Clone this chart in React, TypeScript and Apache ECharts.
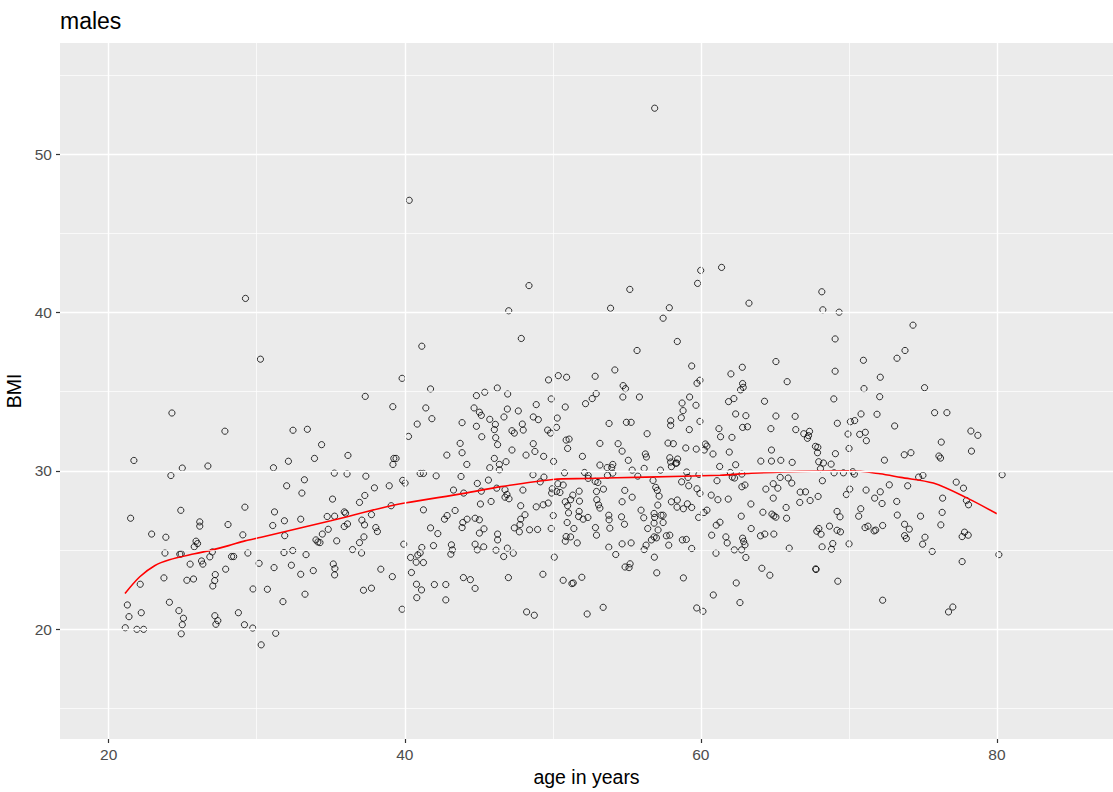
import React, { useEffect, useRef } from "react";
import * as echarts from "echarts";

const chartTitle = "males";
const xTitle = "age in years";
const yTitle = "BMI";
const xTicks = [20, 40, 60, 80];
const xMinor = [30, 50, 70];
const yTicks = [20, 30, 40, 50];
const yMinor = [15, 25, 35, 45, 55];
const xRange = [16.71, 87.84];
const yRange = [13.05, 57.03];

// [age, BMI], grouped by age band
const pts20s: number[][] = [
  [24.27, 33.65], [27.85, 32.5], [21.7, 30.65], [24.97, 30.17], [26.7, 30.3], [24.2, 29.7],
  [24.87, 27.5], [29.2, 27.7], [21.48, 27.0], [26.15, 26.77], [26.15, 26.5], [28.06, 26.6],
  [22.9, 26.0], [23.86, 25.8], [29.06, 25.95], [25.9, 25.55], [26.0, 25.4], [25.78, 25.2],
  [23.8, 24.8], [24.8, 24.73], [24.9, 24.75], [27.0, 24.87], [25.5, 24.1], [26.27, 24.3],
  [26.36, 24.1], [26.83, 24.56], [28.3, 24.58], [28.44, 24.58], [29.4, 24.8], [30.16, 24.15],
  [22.13, 22.83], [23.73, 23.23], [25.28, 23.08], [25.73, 23.16], [27.2, 23.44], [27.16, 23.06],
  [27.03, 22.72], [27.9, 23.78], [29.75, 22.53], [21.26, 21.52], [21.37, 20.78], [22.2, 21.03],
  [24.1, 21.69], [24.74, 21.16], [25.05, 20.68], [24.97, 20.27], [24.9, 19.7], [21.12, 20.08],
  [21.9, 19.98], [22.36, 19.98], [27.17, 20.84], [27.37, 20.53], [27.24, 20.3], [28.76, 21.03],
  [29.17, 20.27], [29.73, 20.06], [30.3, 19.0], [29.24, 40.89],
];

const pts30s: number[][] = [
  [30.25, 37.05], [39.82, 35.84], [37.33, 34.7], [39.19, 34.05], [32.45, 32.56], [33.42, 32.62],
  [34.38, 31.65], [32.14, 30.6], [31.13, 30.19], [33.9, 30.78], [36.16, 30.97], [39.26, 30.78],
  [39.41, 30.78], [39.2, 30.4], [35.24, 29.85], [36.1, 29.8], [37.37, 29.66], [33.22, 29.43],
  [32.02, 29.05], [33.05, 28.59], [37.95, 28.92], [38.95, 29.05], [39.86, 29.39], [40.02, 29.22],
  [35.12, 28.21], [37.3, 28.44], [36.94, 28.0], [39.08, 27.79], [31.2, 27.4], [31.08, 26.54],
  [31.87, 26.84], [32.97, 26.94], [31.89, 25.9], [34.76, 27.11], [35.26, 27.13], [35.91, 27.4],
  [36.0, 27.32], [35.91, 26.48], [36.13, 26.64], [34.83, 26.3], [34.43, 26.0], [34.0, 25.63],
  [34.13, 25.5], [34.27, 25.46], [35.4, 25.57], [37.1, 26.88], [37.28, 26.58], [37.75, 27.23],
  [38.04, 26.41], [38.15, 26.16], [37.24, 25.82], [36.94, 25.46], [39.93, 25.36], [31.84, 24.83],
  [32.43, 24.96], [33.33, 24.7], [36.47, 25.02], [37.08, 24.8], [31.17, 23.88], [32.34, 24.03],
  [32.97, 23.46], [33.82, 23.69], [35.17, 24.11], [35.28, 23.82], [35.26, 23.42], [38.38, 23.78],
  [39.16, 23.31], [30.72, 22.51], [33.26, 22.2], [31.77, 21.73], [37.21, 22.45], [37.75, 22.58],
  [39.82, 21.25], [31.28, 19.73],
];

const pts40s: number[][] = [
  [41.15, 37.87], [41.74, 35.17], [41.42, 33.97], [40.84, 32.95], [41.83, 33.29], [40.25, 32.17],
  [44.84, 34.75], [45.4, 34.96], [46.25, 35.23], [44.68, 33.97], [45.04, 33.7], [45.17, 33.5],
  [45.74, 33.25], [46.12, 32.93], [46.05, 32.6], [43.87, 33.04], [44.84, 32.81], [45.2, 32.15],
  [46.14, 32.09], [46.27, 31.65], [43.74, 31.73], [43.87, 31.14], [42.84, 30.99], [44.19, 30.4],
  [46.05, 30.78], [45.74, 30.19], [46.39, 30.4], [46.39, 30.06], [41.04, 29.83], [41.26, 29.83],
  [42.12, 29.68], [43.8, 29.64], [44.9, 29.2], [45.65, 29.41], [45.17, 28.71], [46.21, 28.9],
  [43.29, 28.78], [43.98, 28.59], [45.11, 27.9], [45.83, 28.06], [41.26, 27.53], [43.4, 27.49],
  [42.86, 27.17], [42.68, 26.94], [44.21, 26.94], [43.92, 26.73], [43.87, 26.41], [44.75, 27.0],
  [45.04, 26.9], [45.35, 26.33], [45.04, 26.06], [41.74, 26.39], [42.23, 26.03], [46.27, 26.0],
  [46.27, 25.63], [46.16, 24.98], [41.15, 25.15], [41.94, 25.27], [43.15, 25.32], [43.22, 25.0],
  [43.11, 24.73], [44.75, 25.36], [44.9, 25.0], [45.33, 25.19], [40.39, 24.52], [40.77, 24.22],
  [41.04, 24.81], [41.26, 24.2], [40.88, 24.68], [40.45, 23.57], [40.79, 22.83], [41.13, 22.47],
  [40.81, 21.98], [42.0, 22.81], [42.77, 22.81], [43.96, 23.25], [44.43, 23.12], [44.75, 22.57],
  [42.77, 21.84], [40.3, 47.09],
  [47.02, 40.11], [47.87, 38.36], [49.71, 35.74], [46.95, 34.85], [49.89, 34.54], [48.88, 34.18],
  [46.93, 33.9], [47.67, 33.78], [46.7, 33.4], [48.68, 33.4], [49.02, 33.23], [47.94, 32.95],
  [48.0, 32.57], [47.24, 32.53], [47.4, 32.38], [49.65, 32.57], [49.85, 32.38], [48.68, 31.71],
  [47.24, 31.31], [48.79, 31.22], [48.19, 30.99], [49.38, 30.91], [46.84, 30.57], [48.66, 29.75],
  [49.4, 29.6], [49.15, 29.3], [49.96, 28.86], [49.92, 28.59], [47.98, 28.78], [46.77, 28.8],
  [46.9, 28.5], [46.77, 28.33], [47.04, 28.23], [49.69, 27.96], [49.35, 27.85], [48.88, 27.72],
  [47.83, 27.79], [48.12, 27.22], [47.83, 26.94], [47.78, 26.6], [47.4, 26.39], [47.74, 26.14],
  [48.43, 26.27], [48.97, 26.29], [49.89, 26.35], [46.93, 25.11], [46.68, 24.58], [47.33, 24.79],
  [47.0, 23.25], [49.33, 23.46], [48.23, 21.08], [48.75, 20.87], [48.39, 41.7],
];

const pts50s: number[][] = [
  [50.37, 36.01], [50.93, 35.91], [52.86, 35.97], [50.84, 34.03], [52.21, 34.24], [52.66, 34.56],
  [52.93, 34.87], [50.3, 33.33], [50.25, 32.74], [50.9, 31.94], [51.1, 32.0], [51.0, 31.41],
  [53.18, 31.73], [50.05, 30.59], [52.0, 30.91], [53.18, 30.36], [50.79, 29.87], [52.14, 29.89],
  [52.39, 29.71], [52.39, 29.52], [52.86, 29.33], [53.04, 29.26], [50.34, 29.18], [50.7, 29.1],
  [50.25, 28.69], [50.48, 28.63], [51.78, 28.71], [51.35, 28.46], [51.2, 28.17], [50.84, 28.04],
  [51.0, 27.79], [51.8, 28.08], [52.95, 28.69], [52.97, 28.17], [53.09, 27.85], [53.18, 27.64],
  [51.78, 27.43], [51.74, 27.11], [52.05, 26.94], [52.37, 27.05], [51.06, 27.34], [50.03, 27.17],
  [50.97, 26.73], [51.42, 26.35], [52.88, 26.41], [52.95, 25.93], [50.9, 25.84], [51.2, 25.82],
  [50.84, 25.55], [51.65, 25.44], [50.1, 24.54], [50.7, 23.08], [51.29, 22.87], [51.38, 22.91],
  [51.96, 23.27], [52.32, 20.95],
  [55.2, 41.46], [53.9, 40.27], [57.87, 40.3], [57.45, 39.64], [58.41, 38.17], [55.69, 37.6],
  [59.38, 36.62], [54.19, 36.37], [59.94, 35.72], [59.74, 35.53], [54.75, 35.38], [54.91, 35.19],
  [54.73, 34.66], [55.85, 34.66], [59.24, 34.66], [58.73, 34.28], [58.8, 33.8], [59.67, 34.14],
  [59.94, 33.12], [58.68, 33.35], [53.8, 32.99], [54.97, 33.06], [55.29, 33.06], [57.96, 33.16],
  [57.96, 32.87], [59.22, 32.6], [56.37, 32.34], [54.41, 31.71], [54.68, 31.24], [57.78, 31.75],
  [58.14, 31.71], [58.98, 31.44], [59.69, 31.37], [56.25, 31.06], [56.32, 30.87], [57.9, 30.82],
  [58.43, 30.74], [57.96, 30.55], [58.3, 30.47], [58.37, 30.49], [55.1, 30.66], [53.67, 30.2],
  [54.05, 30.4], [53.98, 30.2], [54.05, 29.85], [53.69, 29.71], [55.36, 30.04], [56.17, 30.15],
  [57.27, 30.04], [58.01, 30.26], [55.74, 29.66], [59.04, 29.92], [59.13, 29.58], [59.87, 29.77],
  [56.77, 29.39], [56.95, 28.95], [57.06, 28.76], [57.18, 28.4], [58.7, 29.3], [59.18, 29.05],
  [59.74, 28.86], [59.94, 28.57], [53.42, 28.84], [54.86, 28.76], [55.36, 28.33], [54.68, 28.04],
  [57.09, 27.83], [58.01, 28.04], [58.41, 28.15], [58.39, 27.7], [58.82, 27.6], [59.09, 27.91],
  [59.38, 27.68], [55.96, 27.51], [56.14, 27.03], [56.84, 27.3], [56.88, 27.05], [57.31, 27.19],
  [57.45, 27.19], [57.45, 26.73], [57.11, 26.26], [56.84, 26.69], [53.78, 27.19], [53.8, 26.9],
  [53.85, 26.37], [54.64, 27.09], [54.84, 26.62], [56.41, 26.35], [59.85, 27.05], [56.84, 25.82],
  [57.0, 25.76], [56.66, 25.63], [57.67, 25.89], [57.9, 25.93], [57.83, 25.3], [58.75, 25.63],
  [59.02, 25.66], [59.38, 25.09], [53.78, 25.17], [54.68, 25.38], [55.29, 25.44], [56.3, 25.3],
  [56.17, 25.02], [54.25, 24.71], [56.86, 24.54], [54.88, 23.92], [55.22, 24.12], [55.15, 23.88],
  [57.02, 23.55], [58.82, 23.23], [53.4, 21.37], [59.72, 21.33], [56.88, 52.91], [59.78, 41.84],
];

const pts60s: number[][] = [
  [59.99, 42.66], [61.4, 42.85],
  [63.25, 40.59], [65.07, 36.9], [62.8, 36.54], [62.03, 36.12], [65.83, 35.63], [62.82, 35.51],
  [62.86, 35.27], [62.68, 35.11], [62.23, 34.56], [61.87, 34.37], [64.3, 34.39], [62.35, 33.59],
  [63.04, 33.48], [65.07, 33.46], [66.37, 33.44], [62.82, 32.74], [63.15, 32.78], [64.73, 32.66],
  [66.41, 32.6], [61.22, 32.66], [61.33, 32.15], [62.1, 32.11], [60.3, 31.69], [60.41, 31.56],
  [60.23, 31.31], [60.82, 31.06], [61.92, 31.18], [64.77, 31.31], [64.05, 30.61], [64.77, 30.61],
  [65.4, 30.66], [66.17, 30.53], [61.27, 30.27], [62.35, 30.38], [61.99, 29.89], [62.12, 29.6],
  [62.28, 29.54], [62.77, 29.79], [61.09, 29.37], [62.77, 28.99], [62.98, 29.1], [65.36, 29.58],
  [65.9, 29.54], [66.14, 29.22], [64.89, 29.18], [65.2, 28.9], [64.39, 28.84], [66.71, 28.65],
  [66.68, 28.0], [60.7, 28.46], [61.15, 28.17], [61.85, 28.21], [63.38, 27.9], [64.89, 28.27],
  [65.76, 27.68], [64.19, 27.38], [64.8, 27.26], [64.93, 27.15], [65.07, 27.07], [65.79, 27.0],
  [60.41, 27.51], [60.21, 27.36], [62.73, 27.13], [61.29, 26.75], [61.04, 26.56], [63.4, 26.35],
  [60.73, 25.93], [61.69, 25.82], [61.78, 25.44], [62.82, 25.74], [62.89, 25.53], [62.98, 25.32],
  [62.75, 25.0], [64.03, 25.89], [64.32, 26.0], [64.93, 26.0], [62.26, 25.0], [61.02, 24.79],
  [63.04, 24.52], [65.97, 25.11], [64.12, 23.84], [64.66, 23.4], [62.39, 22.91], [60.84, 22.15],
  [62.64, 21.67], [60.14, 21.12],
  [68.17, 41.31], [68.24, 40.17], [69.34, 40.02], [69.07, 38.33], [69.07, 36.29], [68.98, 34.54],
  [69.22, 33.0], [66.95, 32.34], [67.34, 32.49], [67.27, 32.22], [67.2, 32.05], [69.94, 32.32],
  [67.74, 31.54], [67.9, 31.48], [67.88, 31.14], [69.09, 31.08], [67.96, 30.57], [68.28, 30.49],
  [68.8, 30.42], [68.08, 30.13], [69.0, 29.87], [69.63, 29.87], [68.21, 29.37], [69.83, 28.5],
  [67.07, 28.67], [67.38, 28.12], [67.92, 28.38], [69.2, 27.43], [69.4, 27.09], [68.69, 26.5],
  [67.97, 26.35], [67.83, 26.18], [68.12, 25.99], [69.2, 26.24], [69.43, 26.14], [68.19, 25.19],
  [68.91, 25.4], [68.82, 25.04], [67.76, 23.8], [67.78, 23.76], [69.25, 23.02],
];

const pts70s: number[][] = [
  [70.98, 36.98], [73.25, 37.11], [72.12, 35.91], [71.02, 35.19], [72.08, 34.68], [70.82, 33.59],
  [71.9, 33.57], [70.1, 33.1], [70.39, 33.17], [73.09, 32.83], [70.73, 32.3], [71.11, 32.43],
  [71.18, 31.9], [70.01, 31.41], [72.4, 30.67], [70.26, 29.94], [70.37, 29.79], [72.73, 29.11],
  [70.06, 28.84], [71.16, 28.78], [72.12, 28.67], [71.74, 28.27], [72.24, 27.93], [73.23, 28.06],
  [73.27, 27.2], [70.8, 27.6], [70.66, 27.13], [71.09, 26.41], [71.29, 26.5], [71.7, 26.2],
  [71.81, 26.25], [72.28, 26.54], [70.01, 25.38], [72.28, 21.82],
  [74.33, 39.2], [73.79, 37.6], [75.11, 35.25], [75.79, 33.67], [76.62, 33.67], [78.24, 32.51],
  [78.71, 32.24], [76.24, 31.81], [73.74, 31.01], [74.19, 31.14], [76.08, 30.93], [76.19, 30.8],
  [78.28, 31.24], [74.71, 29.6], [75.0, 29.71], [73.97, 29.05], [77.25, 29.28], [77.74, 28.9],
  [76.33, 28.27], [77.94, 28.12], [78.08, 27.85], [76.3, 27.37], [74.84, 27.13], [76.21, 26.58],
  [73.76, 26.62], [74.08, 26.31], [73.76, 25.9], [73.88, 25.72], [75.14, 25.8], [74.98, 25.36],
  [75.63, 24.9], [77.81, 26.12], [77.65, 25.84], [78.06, 25.93], [77.65, 24.26], [77.02, 21.39],
  [76.73, 21.08],
];

const pts80s: number[][] = [
  [80.35, 29.75], [80.13, 24.7],
];

// smoothed trend (red curve)
const smoothAge = [21.1, 22.1, 23.1, 24.1, 25.8, 27.0, 28.1, 29.2, 30.3, 35.0, 38.3, 40.0, 44.0, 46.5, 50.0, 52.3, 56.3, 61.3, 63.4, 66.7, 70.1, 72.1, 73.5, 75.7, 78.0, 80.0];
const smoothBmi = [22.25, 23.3, 24.0, 24.37, 24.75, 25.0, 25.27, 25.57, 25.8, 26.84, 27.62, 27.96, 28.57, 29.0, 29.45, 29.51, 29.6, 29.72, 29.84, 29.96, 30.0, 29.81, 29.58, 29.22, 28.27, 27.28];

const FONT = "'Liberation Sans', Arial, sans-serif";

export default function App() {
  const ref = useRef<HTMLDivElement>(null);

  useEffect(() => {
    if (!ref.current) return;
    const chart = echarts.init(ref.current, null, { renderer: "svg" });
    const points = [...pts20s, ...pts30s, ...pts40s, ...pts50s, ...pts60s, ...pts70s, ...pts80s];
    const smooth = smoothAge.map((a, i) => [a, smoothBmi[i]]);
    const minorStyle = { color: "#FFFFFF", width: 0.7, type: "solid" };
    const majorStyle = { color: "#FFFFFF", width: 1.4, type: "solid" };
    const gridLines = [
      ...xMinor.map((v) => ({ xAxis: v, lineStyle: minorStyle })),
      ...yMinor.map((v) => ({ yAxis: v, lineStyle: minorStyle })),
      ...xTicks.map((v) => ({ xAxis: v, lineStyle: majorStyle })),
      ...yTicks.map((v) => ({ yAxis: v, lineStyle: majorStyle })),
    ];

    chart.setOption({
      animation: false,
      title: {
        text: chartTitle,
        left: 60,
        top: 9,
        padding: 0,
        textStyle: { fontFamily: FONT, fontSize: 23, fontWeight: "normal", color: "#000000" },
      },
      grid: {
        left: 60,
        top: 43,
        width: 1053,
        height: 696,
        show: true,
        backgroundColor: "#EBEBEB",
        borderWidth: 0,
        containLabel: false,
        outerBoundsMode: "none",
      },
      xAxis: {
        type: "value",
        min: xRange[0],
        max: xRange[1],
        name: xTitle,
        nameLocation: "middle",
        nameGap: 26,
        nameTextStyle: { fontFamily: FONT, fontSize: 19.5, color: "#000000" },
        axisLine: { show: false },
        axisTick: {
          show: true,
          length: 4,
          customValues: xTicks,
          lineStyle: { color: "#333333", width: 1.2 },
        },
        axisLabel: {
          customValues: xTicks,
          margin: 7,
          color: "#4D4D4D",
          fontSize: 15.5,
          fontFamily: FONT,
        },
        splitLine: { show: false },
      },
      yAxis: {
        type: "value",
        min: yRange[0],
        max: yRange[1],
        name: yTitle,
        nameLocation: "middle",
        nameRotate: 90,
        nameGap: 29,
        nameTextStyle: { fontFamily: FONT, fontSize: 19.5, color: "#000000" },
        axisLine: { show: false },
        axisTick: {
          show: true,
          length: 4,
          customValues: yTicks,
          lineStyle: { color: "#333333", width: 1.2 },
        },
        axisLabel: {
          customValues: yTicks,
          margin: 8,
          color: "#4D4D4D",
          fontSize: 15.5,
          fontFamily: FONT,
        },
        splitLine: { show: false },
      },
      series: [
        {
          type: "line",
          name: "grid",
          data: [],
          silent: true,
          z: 1,
          markLine: {
            silent: true,
            symbol: ["none", "none"],
            label: { show: false },
            emphasis: { disabled: true },
            animation: false,
            data: gridLines,
          },
        },
        {
          type: "scatter",
          name: "points",
          data: points,
          symbol: "circle",
          symbolSize: 6.2,
          silent: true,
          z: 2,
          itemStyle: { color: "rgba(0,0,0,0)", borderColor: "#000000", borderWidth: 1 },
        },
        {
          type: "line",
          name: "trend",
          data: smooth,
          showSymbol: false,
          symbol: "none",
          smooth: 0.3,
          silent: true,
          z: 3,
          lineStyle: { color: "#FF0000", width: 1.6 },
        },
      ],
    });

    return () => chart.dispose();
  }, []);

  return (
    <div
      ref={ref}
      style={{ position: "fixed", left: 0, top: 0, width: 1113, height: 792, background: "#FFFFFF" }}
    />
  );
}
